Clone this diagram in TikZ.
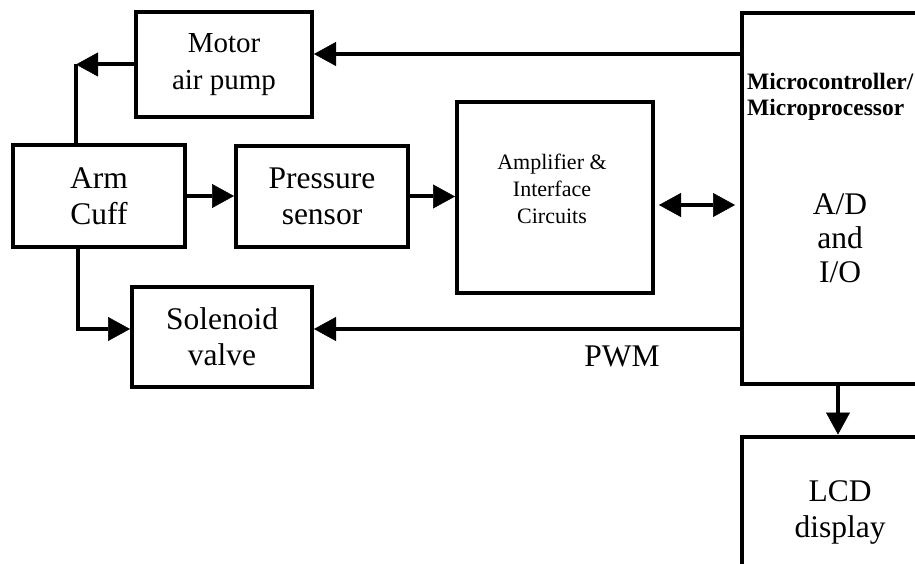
\documentclass[tikz,border=0pt]{standalone}
\usepackage{fontspec}
\setmainfont{Liberation Serif}
\usetikzlibrary{arrows.meta}
\begin{document}
\begin{tikzpicture}[x=1pt,y=-1pt,
  blk/.style={draw, line width=4pt, inner sep=0pt, align=center},
  big/.style={font=\fontsize{31.5}{36}\selectfont},
  conn/.style={line width=4pt},
  tip/.tip={Triangle[length=22pt,width=24pt,line width=0.5pt]},
  arr/.style={conn, -tip},
  darr/.style={conn, tip-tip},
]
\useasboundingbox (0,0) rectangle (915,564);
\clip (0,0) rectangle (915,564);

% blocks
\node[blk, minimum width=176pt, minimum height=105pt,
      font=\fontsize{29}{37}\selectfont] (motor) at (224,64.5) {Motor\\air pump};
\node[blk, big, minimum width=172pt, minimum height=102pt] (arm) at (99,196) {Arm\\Cuff};
\node[blk, big, minimum width=172pt, minimum height=101pt] (pressure) at (322,196.5) {Pressure\\sensor};
\node[blk, minimum width=196pt, minimum height=191pt] (amp) at (555,197.5) {};
\node[align=center, inner sep=0pt, font=\fontsize{22}{27}\selectfont] (amptext) at (552,189)
  {Amplifier \&\\Interface\\Circuits};
\node[blk, big, minimum width=180pt, minimum height=100pt] (solenoid) at (222,337) {Solenoid\\valve};
\node[blk, minimum width=240pt, minimum height=371pt] (micro) at (862,198.5) {};
\node[anchor=north west, align=left, inner sep=0pt,
      font=\fontsize{23.5}{26}\bfseries] (microtitle) at (747,73)
  {Microcontroller/\\Microprocessor};
\node[align=center, inner sep=0pt, font=\fontsize{31.5}{34}\selectfont] (adio) at (840,238)
  {A/D\\and\\I/O};
\node[blk, minimum width=240pt, minimum height=203pt] (lcd) at (862,538) {};
\node[align=center, inner sep=0pt, big] (lcdtext) at (840,512) {LCD\\display};
\node[inner sep=0pt, big] (pwm) at (622,356) {PWM};

% connectors
\coordinate (pc) at (motor.west -| 76,0);
\coordinate (sc) at (78,329);
\draw[arr] (micro.west |- 0,54) -- (motor.east |- 0,54);
\draw[arr] (motor.west) -- (pc);
\draw[conn] (pc) -- (arm.north -| pc);
\draw[arr] (arm.east) -- (pressure.west |- arm.east);
\draw[arr] (pressure.east) -- (amp.west |- pressure.east);
\draw[darr, shorten <=4pt, shorten >=5pt] (amp.east |- 0,205) -- (micro.west |- 0,205);
\draw[arr] (arm.south -| sc) |- (solenoid.west |- sc);
\draw[arr] (micro.west |- sc) -- (solenoid.east |- sc);
\draw[arr] (micro.south -| 838,0) -- (lcd.north -| 838,0);
\end{tikzpicture}
\end{document}
